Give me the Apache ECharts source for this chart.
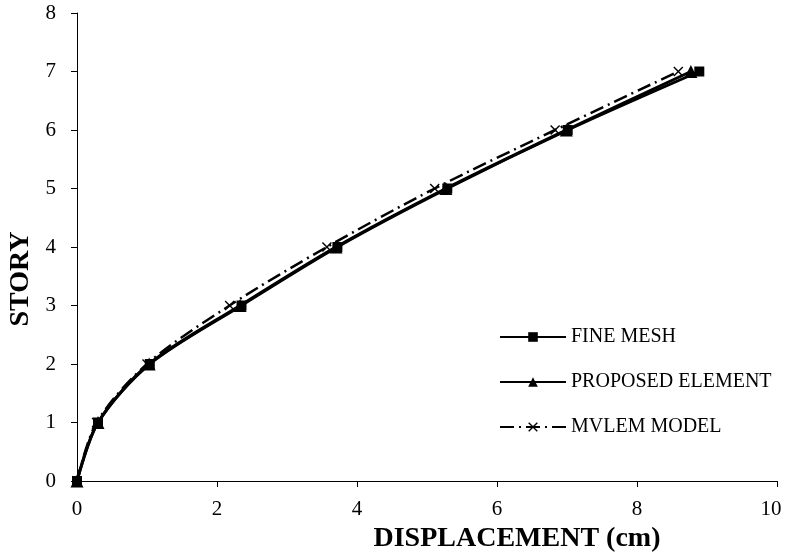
<!DOCTYPE html>
<html>
<head>
<meta charset="utf-8">
<script src="https://cdn.jsdelivr.net/npm/echarts@6/dist/echarts.min.js"></script>
<style>
  html, body { margin: 0; padding: 0; background: #fff; }
  #chart { width: 790px; height: 554px; }
</style>
</head>
<body>
<div id="chart"></div>
<script>
var stories = [0, 1, 2, 3, 4, 5, 6, 7];
var fineMesh = [0, 0.3, 1.04, 2.35, 3.72, 5.29, 7.01, 8.89];
var proposed = [0, 0.3, 1.03, 2.33, 3.7, 5.27, 6.99, 8.77];
var mvlem = [0, 0.28, 1.0, 2.18, 3.57, 5.11, 6.83, 8.59];

function pairs(xs) {
    var out = [];
    for (var i = 0; i < xs.length; i++) {
        out.push([xs[i], stories[i]]);
    }
    return out;
}

var crossPath = 'path://M0,1L1,0L5,4L9,0L10,1L6,5L10,9L9,10L5,6L1,10L0,9L4,5Z';
var font = '"Liberation Serif", "Times New Roman", serif';

var myChart = echarts.init(document.getElementById('chart'));

var option = {
    animation: false,
    textStyle: { fontFamily: font, color: '#000' },
    grid: { left: 77, right: 13, top: 13, bottom: 73, containLabel: false, outerBoundsMode: 'none' },
    legend: {
        orient: 'vertical',
        left: 494,
        top: 322,
        itemWidth: 66,
        itemHeight: 12,
        itemGap: 25,
        textStyle: { fontFamily: font, fontSize: 20, color: '#000' },
        data: ['FINE MESH', 'PROPOSED ELEMENT', 'MVLEM MODEL']
    },
    xAxis: {
        type: 'value',
        min: 0, max: 10, interval: 2,
        name: 'DISPLACEMENT (cm)',
        nameLocation: 'middle',
        nameGap: 33,
        nameTextStyle: { fontFamily: font, fontSize: 28, fontWeight: 'bold', color: '#000', padding: [0, 0, 0, 180] },
        axisLine: { lineStyle: { color: '#000', width: 1 } },
        axisTick: { show: true, inside: false, length: 6, lineStyle: { color: '#000' } },
        axisLabel: {
            fontFamily: font, fontSize: 21, color: '#000', margin: 18,
            formatter: function (v) { return v === 10 ? '{m|10}' : String(v); },
            rich: { m: { fontFamily: font, fontSize: 21, color: '#000', padding: [0, 12, 0, 0] } }
        },
        splitLine: { show: false }
    },
    yAxis: {
        type: 'value',
        min: 0, max: 8, interval: 1,
        name: 'STORY',
        nameLocation: 'middle',
        nameGap: 42,
        nameTextStyle: { fontFamily: font, fontSize: 28, fontWeight: 'bold', color: '#000', padding: [0, 64, 0, 0] },
        axisLine: { show: true, lineStyle: { color: '#000', width: 1 } },
        axisTick: { show: true, inside: false, length: 6, lineStyle: { color: '#000' } },
        axisLabel: { fontFamily: font, fontSize: 21, color: '#000', margin: 21 },
        splitLine: { show: false }
    },
    series: [
        {
            name: 'FINE MESH',
            type: 'line',
            smooth: 0.3,
            data: pairs(fineMesh),
            symbol: 'rect',
            symbolSize: 10,
            itemStyle: { color: '#000' },
            lineStyle: { color: '#000', width: 3 },
            z: 3
        },
        {
            name: 'PROPOSED ELEMENT',
            type: 'line',
            smooth: 0.3,
            data: pairs(proposed),
            symbol: 'triangle',
            symbolSize: 13,
            itemStyle: { color: '#000' },
            lineStyle: { color: '#000', width: 3 },
            z: 4
        },
        {
            name: 'MVLEM MODEL',
            type: 'line',
            smooth: 0.3,
            data: pairs(mvlem),
            symbol: crossPath,
            symbolSize: 10,
            itemStyle: { color: '#000' },
            lineStyle: { color: '#000', width: 2.5, type: [14, 5, 2, 5] },
            z: 2
        }
    ]
};

myChart.setOption(option);
</script>
</body>
</html>
